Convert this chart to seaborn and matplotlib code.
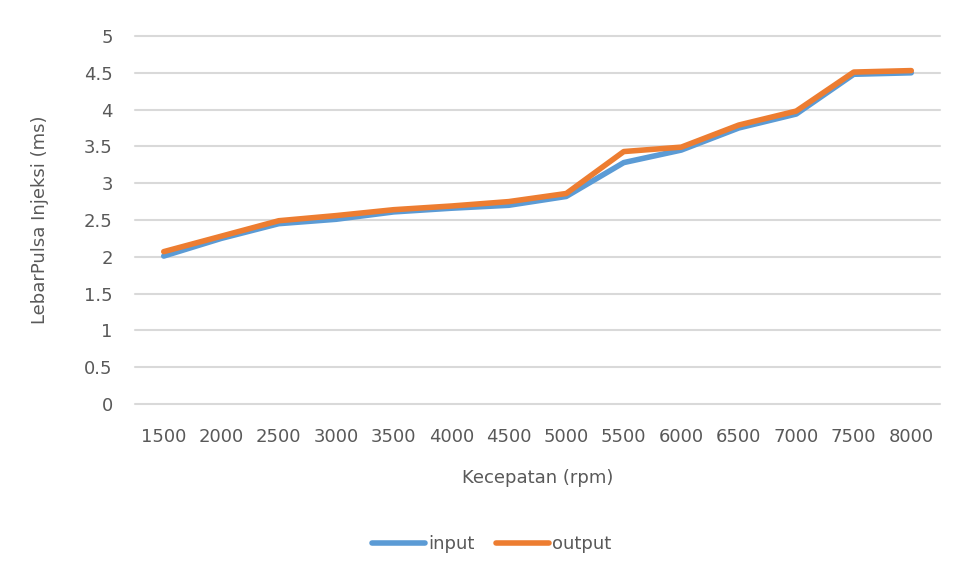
import pandas as pd
import matplotlib.pyplot as plt
import seaborn as sns

rpm = ["1500", "2000", "2500", "3000", "3500", "4000", "4500",
       "5000", "5500", "6000", "6500", "7000", "7500", "8000"]
input_ms = [2.01, 2.25, 2.45, 2.51, 2.61, 2.66, 2.70, 2.82, 3.28, 3.45, 3.75, 3.94, 4.48, 4.50]
output_ms = [2.07, 2.28, 2.49, 2.56, 2.64, 2.69, 2.75, 2.86, 3.43, 3.49, 3.79, 3.98, 4.51, 4.53]

df = pd.DataFrame({
    "Kecepatan": rpm * 2,
    "Lebar": input_ms + output_ms,
    "seri": ["input"] * len(rpm) + ["output"] * len(rpm),
})

sns.set_style("white")
plt.rcParams["font.family"] = ["DejaVu Sans"]
text_col = "#595959"

fig = plt.figure(figsize=(9.55, 5.76), dpi=100)
ax = fig.add_axes([135 / 955, 1 - 404 / 576, 805 / 955, 368 / 576])

sns.lineplot(data=df, x="Kecepatan", y="Lebar", hue="seri",
             palette={"input": "#5B9BD5", "output": "#ED7D31"},
             linewidth=4, sort=False, ax=ax, legend=False,
             solid_capstyle="round", solid_joinstyle="round")

ax.set_xlim(-0.5, len(rpm) - 0.5)
ax.set_ylim(0, 5)
ax.set_yticks([0, 0.5, 1, 1.5, 2, 2.5, 3, 3.5, 4, 4.5, 5])
ax.set_yticklabels(["0", "0.5", "1", "1.5", "2", "2.5", "3", "3.5", "4", "4.5", "5"])
ax.yaxis.grid(True, color="#d9d9d9", linewidth=1.5)
ax.xaxis.grid(False)
ax.set_axisbelow(True)
for gl in ax.get_ygridlines():
    gl.set_clip_on(False)
for s in ax.spines.values():
    s.set_visible(False)
ax.tick_params(axis="both", length=0, labelsize=13, colors=text_col)
ax.tick_params(axis="x", pad=17)
ax.tick_params(axis="y", pad=16)

ax.set_xlabel("Kecepatan (rpm)", fontsize=13, color=text_col, labelpad=17)
ax.set_ylabel("LebarPulsa Injeksi (ms)", fontsize=13, color=text_col, labelpad=25)

handles = [plt.Line2D([], [], color="#5B9BD5", linewidth=4, solid_capstyle="round"),
           plt.Line2D([], [], color="#ED7D31", linewidth=4, solid_capstyle="round")]
fig.legend(handles, ["input", "output"], loc="center", bbox_to_anchor=(492 / 955, 1 - 544 / 576),
           ncol=2, frameon=False, fontsize=13, handlelength=2.9, handletextpad=0.2,
           columnspacing=1.2, labelcolor=text_col)

fig.savefig("out.png", dpi=100, facecolor="white")
